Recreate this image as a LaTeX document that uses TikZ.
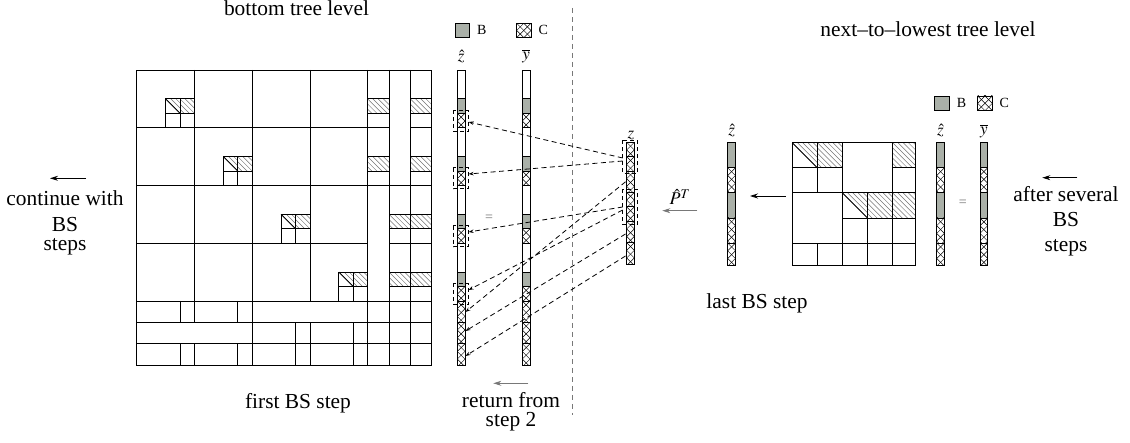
\documentclass[tikz,border=0pt]{standalone}
\usepackage{mathptmx}
\usepackage{fontspec}
\setmainfont{Liberation Serif}
\usetikzlibrary{arrows.meta}
\definecolor{bfill}{RGB}{170,176,168}
\definecolor{midgray}{RGB}{120,120,120}

\tikzset{
  grid/.style={line width=0.9pt, draw=black},
  hatchline/.style={line width=0.5pt, draw=black!55},
  xline/.style={line width=0.45pt, draw=black},
  dasharrow/.style={dash pattern=on 5pt off 3.5pt, line width=0.8pt, -{Stealth[length=5pt,width=3.5pt]}},
  dashbox/.style={dash pattern=on 4pt off 3pt, line width=0.8pt},
  leftarrow/.style={line width=0.8pt, -{Stealth[length=8pt,width=5pt]}},
  txt/.style={font=\fontsize{21.4}{25}\selectfont, anchor=base, inner sep=0pt},
  block/.style={font=\fontsize{21.4}{25}\selectfont, align=center, inner sep=0pt, anchor=north},
  smalltxt/.style={font=\fontsize{14}{16}\selectfont, anchor=base west, inner sep=0pt},
  mlabel/.style={font=\fontsize{17}{20}\selectfont, inner sep=0pt},
  eqsign/.style={font=\fontsize{14}{16}\selectfont, text=black!55, inner sep=0pt},
}

% "\" hatching of a rectangle
\newcommand\nwhatch[4]{%
  \begin{scope}
    \clip (#1,#2) rectangle (#3,#4);
    \foreach \k in {-6,...,6}{\draw[hatchline] ({#1+\k*5.2},#2) -- ++(40,40);}
  \end{scope}}
% hatching of the upper triangle only, with its diagonal
\newcommand\uthatch[4]{%
  \begin{scope}
    \clip (#1,#2) -- (#3,#2) -- (#3,#4) -- cycle;
    \foreach \k in {-6,...,6}{\draw[hatchline] ({#1+\k*5.2},#2) -- ++(40,40);}
  \end{scope}
  \draw[grid] (#1,#2) -- (#3,#4);}
% crossed pattern of the C parts
\newcommand\xhatch[5]{%
  \begin{scope}
    \clip (#1,#2) rectangle (#3,#4);
    \foreach \j in {-2,...,8}{
      \draw[xline] (#1,{#2+\j*#5}) -- ++(20,20);
      \draw[xline] (#1,{#2+\j*#5}) -- ++(20,-20);
    }
  \end{scope}}

% left vector: 4 domain blocks (white, B, C) and 3 separator parts (C)
\newcommand\domainvec[1]{%
  \foreach \k in {0,...,3}{
    \pgfmathsetmacro\ya{70+57.75*\k}
    \pgfmathsetmacro\yh{\ya+28.875}
    \pgfmathsetmacro\yq{\ya+43.3125}
    \pgfmathsetmacro\ye{\ya+57.75}
    \fill[bfill] (#1,\yh) rectangle ({#1+7.7},\yq);
    \xhatch{#1}{\yq}{#1+7.7}{\ye}{7.7}
    \draw[grid] (#1,\yh) -- ++(7.7,0) (#1,\yq) -- ++(7.7,0) (#1,\ye) -- ++(7.7,0);
  }
  \foreach \ya/\yb in {301/322.35,322.35/343.7,343.7/365.05}{
    \xhatch{#1}{\ya}{#1+7.7}{\yb}{7.7}
    \draw[grid] (#1,\yb) -- ++(7.7,0);
  }
  \draw[grid] (#1,70) rectangle ({#1+7.7},365.05);}

% right vector: B, C, B, C, C
\newcommand\levelvec[1]{%
  \fill[bfill] (#1,142.7) rectangle ({#1+7.7},167.8);
  \fill[bfill] (#1,192.9) rectangle ({#1+7.7},218.0);
  \xhatch{#1}{167.8}{#1+7.7}{192.9}{7.7}
  \xhatch{#1}{218.0}{#1+7.7}{243.1}{7.7}
  \xhatch{#1}{243.1}{#1+7.7}{265.5}{7.7}
  \draw[grid] (#1,142.7) rectangle ({#1+7.7},265.5);
  \foreach \y in {167.8,192.9,218.0,243.1}{\draw[grid] (#1,\y) -- ++(7.7,0);}}

\begin{document}
\begin{tikzpicture}[x=1pt,y=-1pt]
\useasboundingbox (0,0) rectangle (1130,443);

% ---------------- bottom tree level: matrix ----------------
% hatched bands in the separator columns
\foreach \xa/\xb/\k in {367.7/389.05/0,367.7/389.05/1,389.05/410.4/2,389.05/410.4/3,
                        410.4/431.75/0,410.4/431.75/1,410.4/431.75/2,410.4/431.75/3}{
  \pgfmathsetmacro\yh{70+57.75*\k+28.875}
  \pgfmathsetmacro\yq{70+57.75*\k+43.3125}
  \nwhatch{\xa}{\yh}{\xb}{\yq}
  \draw[grid] (\xa,\yh) rectangle (\xb,\yq);
}
% diagonal blocks: 2x2 sub-block with its B rows
\foreach \k in {0,...,3}{
  \pgfmathsetmacro\hx{136.7+57.75*\k+28.875}
  \pgfmathsetmacro\qx{136.7+57.75*\k+43.3125}
  \pgfmathsetmacro\ex{136.7+57.75*\k+57.75}
  \pgfmathsetmacro\hy{70+57.75*\k+28.875}
  \pgfmathsetmacro\qy{70+57.75*\k+43.3125}
  \pgfmathsetmacro\ey{70+57.75*\k+57.75}
  \uthatch{\hx}{\hy}{\qx}{\qy}
  \nwhatch{\qx}{\hy}{\ex}{\qy}
  \draw[grid] (\hx,\hy) rectangle (\ex,\ey);
  \draw[grid] (\qx,\hy) -- (\qx,\ey) (\hx,\qy) -- (\ex,\qy);
}
% block grid
\draw[grid] (136.7,70) rectangle (431.75,365.05);
\foreach \x in {194.45,252.2,309.95}{\draw[grid] (\x,70) -- (\x,301);}
\foreach \y in {127.75,185.5,243.25}{\draw[grid] (136.7,\y) -- (367.7,\y);}
\foreach \x in {367.7,389.05,410.4}{\draw[grid] (\x,70) -- (\x,365.05);}
\foreach \y in {301,322.35,343.7}{\draw[grid] (136.7,\y) -- (431.75,\y);}
\draw[grid] (367.7,127.75) -- (389.05,127.75) (410.4,127.75) -- (431.75,127.75);
\draw[grid] (367.7,185.5) -- (431.75,185.5);
\draw[grid] (389.05,243.25) -- (431.75,243.25);
\draw[grid] (194.45,301) -- (194.45,322.35) (194.45,343.7) -- (194.45,365.05);
\draw[grid] (252.2,301) -- (252.2,365.05);
\draw[grid] (309.95,322.35) -- (309.95,365.05);
\foreach \x in {180.01,237.76}{\draw[grid] (\x,301) -- (\x,322.35);}
\foreach \x in {295.51,353.26}{\draw[grid] (\x,322.35) -- (\x,343.7);}
\foreach \x in {180.01,237.76,295.51,353.26}{\draw[grid] (\x,343.7) -- (\x,365.05);}

% ---------------- vectors of the first step ----------------
\domainvec{457.3}
\domainvec{522.3}
\foreach \k in {0,...,3}{
  \pgfmathsetmacro\qy{70+57.75*\k+43.3125}
  \draw[dashbox] (453.3,{\qy-3.3}) rectangle (468.6,{\qy+17.8});
}
\node[mlabel] (zhatA) at (461.2,57) {$\hat{z}$};
\node[mlabel] (ybarA) at (526.2,56) {$\overline{y}$};
\node[eqsign] (eqA) at (489,218) {=};

% legend of the first step
\fill[bfill] (455,23.3) rectangle (469.3,37.3);
\draw[grid] (455,23.3) rectangle (469.3,37.3);
\node[smalltxt] (legBA) at (477,35) {B};
\xhatch{516.7}{23.3}{531}{37.3}{7.15}
\draw[grid] (516.7,23.3) rectangle (531,37.3);
\node[smalltxt] (legCA) at (538.3,35) {C};

% level separator
\draw[midgray, line width=1pt, dash pattern=on 5pt off 4pt] (572.7,8) -- (572.7,415);

% ---------------- coarse vector z = (C0, C1, S01, C2, C3, S23, S) ----------------
\foreach \ya/\yb in {142.3/156.7,156.7/171.1,171.1/192.5,192.5/206.9,206.9/221.3,221.3/242.7,242.7/264.1}{
  \xhatch{626.7}{\ya}{634.3}{\yb}{7.6}
  \draw[grid] (626.7,\yb) -- (634.3,\yb);
}
\draw[grid] (626.7,142.3) rectangle (634.3,264.1);
\node[mlabel] (zA) at (631,135) {$z$};
\draw[dashbox] (622.7,140.5) rectangle (637.3,173.5);
\draw[dashbox] (622.7,189.5) rectangle (637.3,224.5);

% transfers from z back to the fine vector
\coordinate (s0) at (622.7,158);
\coordinate (s1) at (622.7,161);
\coordinate (s4) at (625.5,181.8);
\coordinate (s2) at (622.7,207);
\coordinate (s3) at (622.7,210);
\coordinate (s5) at (625.5,234);
\coordinate (s6) at (625.5,256);
\coordinate (t0) at (468.6,122);
\coordinate (t1) at (468.6,174);
\coordinate (t2) at (468.6,232);
\coordinate (t3) at (468.6,290);
\coordinate (t4) at (465.5,312);
\coordinate (t5) at (465.5,331);
\coordinate (t6) at (465.5,356);
\foreach \i in {0,...,6}{\draw[dasharrow] (s\i) -- (t\i);}

\node[mlabel, font=\fontsize{18}{20}\selectfont] (PT) at (680,197) {$\hat{P}^{T}$};
\coordinate (pa) at (697.3,210.7);
\coordinate (pb) at (662.3,210.7);
\draw[leftarrow, draw=midgray] (pa) -- (pb);

% ---------------- next-to-lowest tree level ----------------
\levelvec{727.7}
\node[mlabel] (zhatB) at (731.7,131) {$\hat{z}$};

% matrix of the coarse level
\uthatch{792.3}{142.7}{817.4}{167.8}
\nwhatch{817.4}{142.7}{842.5}{167.8}
\nwhatch{892.7}{142.7}{915.7}{167.8}
\uthatch{842.5}{192.9}{867.6}{218.0}
\nwhatch{867.6}{192.9}{892.7}{218.0}
\nwhatch{892.7}{192.9}{915.7}{218.0}
\draw[grid] (792.3,142.7) rectangle (915.7,265.5);
\draw[grid] (817.4,142.7) -- (817.4,192.9) (817.4,243.1) -- (817.4,265.5);
\draw[grid] (842.5,142.7) -- (842.5,265.5);
\draw[grid] (867.6,192.9) -- (867.6,265.5);
\draw[grid] (892.7,142.7) -- (892.7,265.5);
\draw[grid] (792.3,167.8) -- (842.5,167.8) (892.7,167.8) -- (915.7,167.8);
\draw[grid] (792.3,192.9) -- (915.7,192.9);
\draw[grid] (842.5,218.0) -- (915.7,218.0);
\draw[grid] (792.3,243.1) -- (915.7,243.1);

\coordinate (ma) at (785.7,196);
\coordinate (mb) at (750,196);
\draw[leftarrow] (ma) -- (mb);

\levelvec{936.7}
\levelvec{980}
\node[mlabel] (zhatC) at (940.5,131) {$\hat{z}$};
\node[mlabel] (ybarC) at (984,131) {$\overline{y}$};
\node[eqsign] (eqC) at (962.7,203.3) {=};

% legend of the coarse level
\fill[bfill] (934.3,96) rectangle (949.3,110);
\draw[grid] (934.3,96) rectangle (949.3,110);
\node[smalltxt] (legBC) at (956.7,108) {B};
\xhatch{977.7}{96}{992.3}{110}{7.3}
\draw[grid] (977.7,96) rectangle (992.3,110);
\node[smalltxt] (legCC) at (999.3,108) {C};

% ---------------- captions ----------------
\node[txt] (capBottom) at (296.5,16) {bottom tree level};
\node[txt] (capNext) at (928,37) {next--to--lowest tree level};
\node[txt] (capFirst) at (298,408.3) {first BS step};
\node[txt] (capLast) at (757,309) {last BS step};

\node[block] (ret) at (511,392) {return from\\[-6pt]step 2};
\coordinate (ra) at (528.3,383.3);
\coordinate (rb) at (493.3,383.3);
\draw[leftarrow, draw=midgray] (ra) -- (rb);

\node[block] (cont) at (65,190) {continue with\\[1pt]BS\\[-6pt]steps};
\coordinate (ca) at (86,178.3);
\coordinate (cb) at (50,178.3);
\draw[leftarrow] (ca) -- (cb);

\node[block] (aft) at (1066,186.5) {after several\\BS\\steps};
\coordinate (aa) at (1077.3,177.7);
\coordinate (ab) at (1042.3,177.7);
\draw[leftarrow] (aa) -- (ab);
\end{tikzpicture}
\end{document}
